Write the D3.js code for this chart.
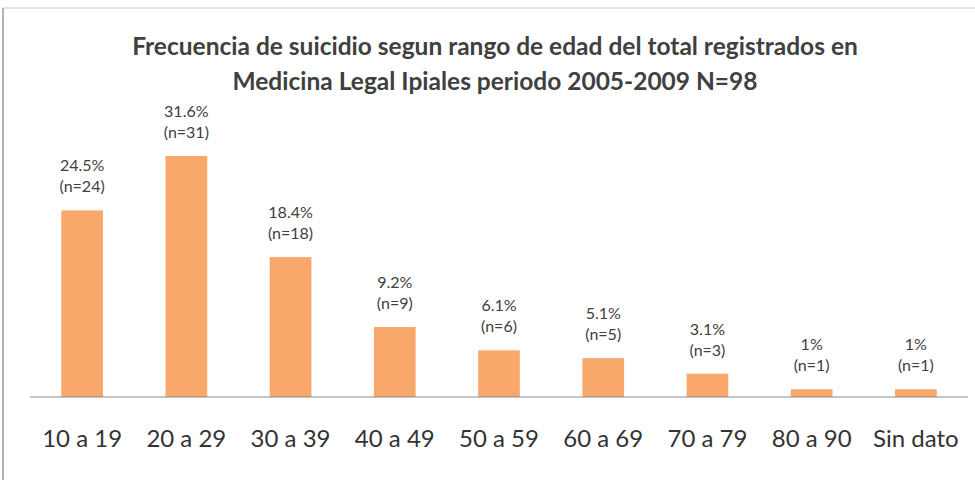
<!DOCTYPE html>
<html>
<head>
<meta charset="utf-8">
<script src="https://cdn.jsdelivr.net/npm/d3@7"></script>
<style>
  body { margin: 0; background: #fff; }
  svg { display: block; }
</style>
</head>
<body>
<div id="chart"></div>
<script>
// age groups and counts (N=98)
const categories = ['10 a 19', '20 a 29', '30 a 39', '40 a 49', '50 a 59', '60 a 69', '70 a 79', '80 a 90', 'Sin dato']
const counts = [24, 31, 18, 9, 6, 5, 3, 1, 1]
const percents = ['24.5%', '31.6%', '18.4%', '9.2%', '6.1%', '5.1%', '3.1%', '1%', '1%']
const titleLines = [
    'Frecuencia de suicidio segun rango de edad del total registrados en',
    'Medicina Legal Ipiales periodo 2005-2009 N=98'
]

const W = 975, H = 480
const font = 'Lato, "Open Sans", sans-serif'

const svg = d3.select('#chart').append('svg')
    .attr('width', W)
    .attr('height', H)

// frame edges of the scanned chart area
svg.append('line').attr('x1', 3).attr('x2', 3).attr('y1', 8).attr('y2', H)
    .attr('stroke', '#9a9a9a').attr('stroke-width', 1.5)
svg.append('line').attr('x1', 3).attr('x2', W).attr('y1', 8).attr('y2', 8)
    .attr('stroke', '#c8c8c8').attr('stroke-width', 1)

svg.append('text')
    .attr('x', 495)
    .attr('text-anchor', 'middle')
    .attr('font-family', font)
    .attr('font-weight', 'bold')
    .attr('font-size', 24.5)
    .attr('fill', '#404040')
    .selectAll('tspan')
    .data(titleLines).enter()
    .append('tspan')
    .attr('x', 495)
    .attr('y', (d, i) => 55 + i * 35)
    .text(d => d)

const x = d3.scaleBand()
    .domain(categories)
    .range([30, 968])
    .paddingInner(0.6)
    .paddingOuter(0.3)

const y = d3.scaleLinear()
    .domain([0, 31])
    .range([397, 156])

const data = categories.map((c, i) => ({ cat: c, n: counts[i], pct: percents[i] }))

svg.append('g')
    .selectAll('rect')
    .data(data).enter()
    .append('rect')
    .attr('x', d => x(d.cat))
    .attr('y', d => y(d.n))
    .attr('width', x.bandwidth())
    .attr('height', d => y(0) - y(d.n))
    .attr('fill', '#f9a86b')

// baseline
svg.append('line')
    .attr('x1', 30).attr('x2', 968)
    .attr('y1', y(0)).attr('y2', y(0))
    .attr('stroke', '#8c8c8c').attr('stroke-width', 1.2)

const labels = svg.append('g')
    .attr('font-family', font)
    .attr('font-size', 16)
    .attr('fill', '#404040')
    .attr('text-anchor', 'middle')

labels.selectAll('text.pct')
    .data(data).enter()
    .append('text')
    .attr('class', 'pct')
    .attr('x', d => x(d.cat) + x.bandwidth() / 2)
    .attr('y', d => y(d.n) - 39)
    .text(d => d.pct)

labels.selectAll('text.n')
    .data(data).enter()
    .append('text')
    .attr('class', 'n')
    .attr('x', d => x(d.cat) + x.bandwidth() / 2)
    .attr('y', d => y(d.n) - 18)
    .text(d => `(n=${d.n})`)

const xAxis = svg.append('g')
    .attr('transform', `translate(0, ${y(0)})`)
    .call(d3.axisBottom(x).tickSize(0).tickPadding(33))

xAxis.select('.domain').remove()
xAxis.selectAll('text')
    .attr('font-family', font)
    .attr('font-size', 24)
    .attr('fill', '#333')
</script>
</body>
</html>
